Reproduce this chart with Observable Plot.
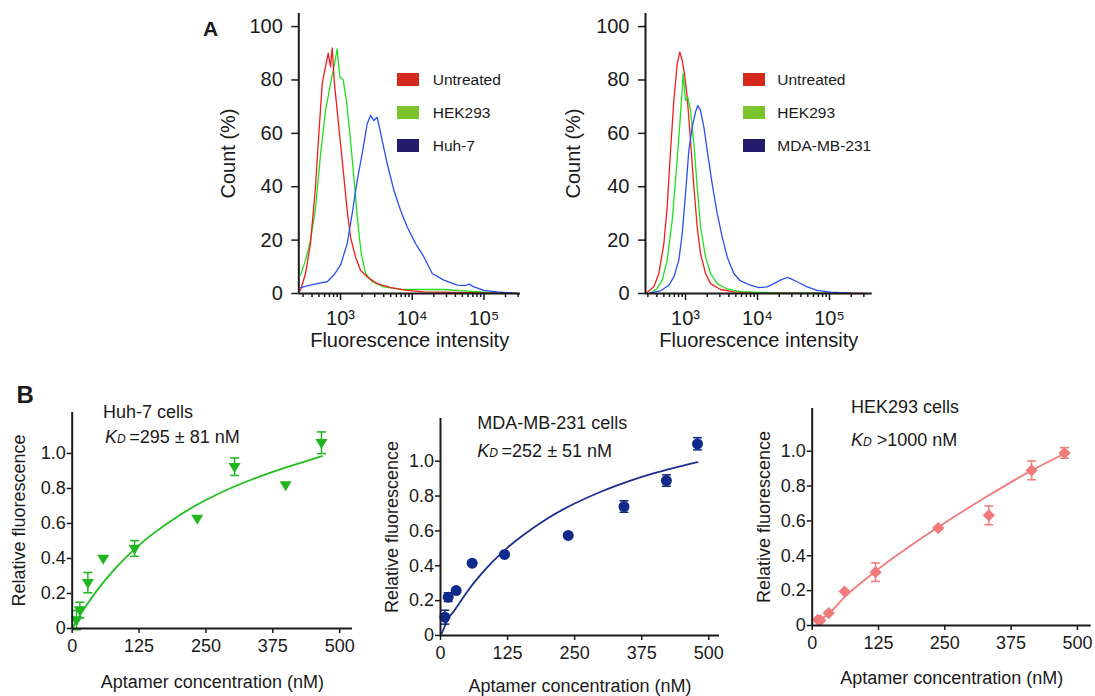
<!DOCTYPE html>
<html><head><meta charset="utf-8">
<script src="https://cdn.jsdelivr.net/npm/d3@7"></script>
<script src="https://cdn.jsdelivr.net/npm/@observablehq/plot@0.6"></script>
<style>
body{margin:0;background:#fff;}
#fig{position:relative;width:1095px;height:696px;overflow:hidden;background:#fff;font-family:"Liberation Sans",Arial,Helvetica,sans-serif;color:#1a1a1a;}
.t{position:absolute;white-space:nowrap;line-height:1;}
.sw{position:absolute;width:22px;height:13px;}
</style></head><body><div id="fig"></div>
<script>
// ---------------- DATA ----------------
// Panel A: flow-cytometry histograms, [log10(intensity), count %]
const a1Untreated = [[2.442,1.2],[2.512,7.5],[2.581,18.7],[2.651,40],[2.698,60],[2.744,78.5],[2.791,85],[2.828,90],[2.860,85],[2.884,92],[2.916,78.5],[2.953,68.6],[3.000,56],[3.047,43.6],[3.093,31],[3.140,21],[3.209,13.7],[3.279,8.7],[3.372,6.2],[3.512,3.7],[3.698,2.2],[3.930,1.2],[4.163,0.6],[4.628,0.4],[5.093,0.1],[5.465,0]];
const a1HEK293 = [[2.442,6.9],[2.512,12.5],[2.581,20],[2.651,32],[2.721,52],[2.791,68.6],[2.860,78.5],[2.916,86],[2.953,91.6],[2.991,81],[3.037,80],[3.084,72],[3.130,60],[3.186,43.6],[3.233,28.7],[3.288,15],[3.349,7.5],[3.442,4.4],[3.605,2.5],[3.837,1.6],[4.163,1.5],[4.442,1.5],[4.721,1.0],[5.000,0.5],[5.326,0.1]];
const a1Huh7 = [[2.442,2.2],[2.581,3.1],[2.721,4],[2.814,4.4],[2.907,6.9],[3.000,10.6],[3.093,18.7],[3.163,30],[3.233,42.4],[3.302,52.4],[3.372,63.6],[3.419,66.7],[3.465,64.8],[3.512,66],[3.581,57.4],[3.651,48.6],[3.744,38.7],[3.837,31.2],[3.930,24.9],[4.047,18.7],[4.163,13.7],[4.279,7.5],[4.442,5],[4.628,3.1],[4.744,3],[4.791,3.5],[4.860,2.5],[5.000,1.2],[5.186,0.6],[5.465,0]];
const a2Untreated = [[2.458,0.2],[2.560,2.5],[2.630,7.5],[2.699,18.7],[2.745,32.4],[2.792,53.6],[2.838,72.3],[2.884,86],[2.921,90.4],[2.954,87.3],[2.986,82.3],[3.023,73.6],[3.069,57.4],[3.116,40],[3.162,25],[3.208,15],[3.278,7.5],[3.347,3.7],[3.486,1.5],[3.671,0.6],[3.995,0.2],[4.690,0.1],[5.523,0]];
const a2HEK293 = [[2.514,0.2],[2.606,1.9],[2.676,5],[2.745,12.5],[2.815,27.4],[2.884,50],[2.931,67.3],[2.968,82.3],[3.000,72.3],[3.032,73.6],[3.069,68.6],[3.116,56],[3.162,40],[3.208,25],[3.278,13.7],[3.347,7.5],[3.440,3.7],[3.579,1.7],[3.764,0.7],[4.227,0.2],[5.153,0.1]];
const a2MDA = [[2.514,0.2],[2.653,1.0],[2.769,3.1],[2.838,6.2],[2.907,12.5],[2.954,22.4],[3.000,37.4],[3.046,53.6],[3.093,62.3],[3.139,68],[3.171,70.4],[3.208,68.6],[3.255,62.3],[3.301,53.6],[3.370,41.1],[3.440,30],[3.509,21.2],[3.579,13.7],[3.671,7.5],[3.764,4.7],[3.903,3.1],[4.019,2.2],[4.134,2.5],[4.227,3.7],[4.319,5],[4.412,6],[4.458,5.6],[4.551,4.4],[4.690,2.5],[4.829,1.2],[5.014,0.5],[5.292,0.1]];

const countTicks = [0, 20, 40, 60, 80, 100];
const decadeTicks = [1e3, 1e4, 1e5];
const decadeLabels = ["10³", "10⁴", "10⁵"];
const minorTicks = [300,400,500,600,700,800,900,2000,3000,4000,5000,6000,7000,8000,9000,20000,30000,40000,50000,60000,70000,80000,90000,200000,300000];
const legendA1 = ["Untreated", "HEK293", "Huh-7"];
const legendA2 = ["Untreated", "HEK293", "MDA-MB-231"];

// Panel B: binding curves
const b1Conc = [8.1, 14.3, 29.3, 58, 116.6, 233.8, 303.6, 399, 466];
const b1Val  = [0.048, 0.105, 0.262, 0.40, 0.457, 0.629, 0.924, 0.82, 1.061];
const b1Err  = [0.055, 0.045, 0.058, 0, 0.045, 0, 0.05, 0, 0.062];
const b1FitX = [1, 10, 25, 50, 75, 100, 125, 150, 200, 250, 300, 350, 400, 467];
const b1FitY = [0.005, 0.053, 0.125, 0.232, 0.324, 0.405, 0.476, 0.539, 0.646, 0.734, 0.807, 0.868, 0.921, 0.985];

const b2Conc = [8.1, 14.3, 29.2, 59, 119.4, 238, 342, 421, 479];
const b2Val  = [0.105, 0.22, 0.258, 0.415, 0.465, 0.574, 0.74, 0.889, 1.10];
const b2Err  = [0.04, 0.025, 0, 0, 0, 0, 0.033, 0.033, 0.035];
const b2FitX = [2, 15, 25, 50, 75, 100, 125, 150, 200, 250, 300, 350, 400, 479];
const b2FitY = [0.01, 0.10, 0.14, 0.252, 0.349, 0.432, 0.504, 0.567, 0.673, 0.757, 0.826, 0.884, 0.933, 0.995];

const b3Conc = [10.6, 15.5, 31.1, 61, 119.4, 237.6, 333, 413.6, 475.7];
const b3Val  = [0.033, 0.029, 0.071, 0.195, 0.306, 0.559, 0.632, 0.89, 0.99];
const b3Err  = [0, 0, 0, 0, 0.053, 0.01, 0.054, 0.054, 0.03];
const b3FitX = [6, 31, 61, 119, 238, 333, 414, 476];
const b3FitY = [0.02, 0.067, 0.163, 0.31, 0.565, 0.747, 0.89, 0.987];

const relTicks = [0, 0.2, 0.4, 0.6, 0.8, 1.0];
const relLabels = ["0", "0.2", "0.4", "0.6", "0.8", "1.0"];
const concTicks = [0, 125, 250, 375, 500];

// ---------------- STYLE ----------------
const FONT = '"Liberation Sans", Arial, Helvetica, sans-serif';
const INK = "#1a1a1a";
const histColors = {red: "#f21c1c", green: "#1fe01f", blue: "#2a4ff2"};
const swatchColors = ["#d4291d", "#7cc42c", "#241a6c"];

const fig = document.getElementById("fig");
function put(el, left, top) {
  el.style.position = "absolute";
  el.style.left = left + "px";
  el.style.top = top + "px";
  fig.appendChild(el);
}
function text(html, left, top, size, extra) {
  const d = document.createElement("div");
  d.className = "t";
  d.innerHTML = html;
  d.style.fontSize = size + "px";
  if (extra) d.style.cssText += extra;
  put(d, left, top);
  return d;
}

// ---------------- PANEL A ----------------
function histPanel(o) {
  const lines = o.series.map(s => Plot.line(
    s.pts.map(([lx, c]) => ({x: Math.pow(10, lx), c})),
    {x: "x", y: "c", stroke: s.color, strokeWidth: 1.3}
  ));
  return Plot.plot({
    width: o.w, height: o.h,
    marginLeft: o.ml, marginRight: o.mr, marginTop: o.mt, marginBottom: o.mb,
    style: {fontFamily: FONT, fontSize: "20px", background: "none", color: INK, overflow: "visible"},
    x: {type: "log", domain: o.xDomain},
    y: {domain: [0, 104.9]},
    marks: [
      ...lines,
      Plot.axisY({ticks: countTicks, tickSize: 7, tickPadding: 9, strokeWidth: 1.5, label: null, tickFormat: d => String(d)}),
      Plot.axisX({ticks: minorTicks, tickSize: 4, tickPadding: 0, strokeWidth: 1.5, label: null, tickFormat: () => ""}),
      Plot.axisX({ticks: decadeTicks, tickSize: 7, tickPadding: 10, strokeWidth: 1.5, label: null, tickFormat: (d, i) => decadeLabels[decadeTicks.indexOf(d)]}),
      Plot.ruleX([o.xDomain[0]], {strokeWidth: 2, stroke: INK}),
      Plot.ruleY([0], {strokeWidth: 2, stroke: INK}),
      Plot.text(["Count (%)"], {text: d => d, frameAnchor: "left", dx: o.ylabDx, rotate: -90, textAnchor: "middle", lineAnchor: "middle", fontSize: 20, fill: INK}),
      Plot.text(["Fluorescence intensity"], {text: d => d, frameAnchor: "bottom", dy: 47, textAnchor: "middle", lineAnchor: "middle", fontSize: 20, fill: INK})
    ]
  });
}

const a1 = histPanel({
  w: 350, h: 360, ml: 108.3, mr: 20, mt: 13, mb: 67,
  xDomain: [Math.pow(10, 2.418), Math.pow(10, 5.51)], ylabDx: -70,
  series: [
    {pts: a1HEK293, color: histColors.green},
    {pts: a1Untreated, color: histColors.red},
    {pts: a1Huh7, color: histColors.blue}
  ]
});
put(a1, 190, 0);

const a2 = histPanel({
  w: 350, h: 360, ml: 105, mr: 18.3, mt: 13, mb: 67,
  xDomain: [Math.pow(10, 2.444), Math.pow(10, 5.593)], ylabDx: -72,
  series: [
    {pts: a2Untreated, color: histColors.red},
    {pts: a2HEK293, color: histColors.green},
    {pts: a2MDA, color: histColors.blue}
  ]
});
put(a2, 540, 0);

// legends
function legend(names, swLeft, txtLeft) {
  const tops = [73.3, 105.7, 139];
  names.forEach((n, i) => {
    const s = document.createElement("div");
    s.className = "sw";
    s.style.background = swatchColors[i];
    put(s, swLeft, tops[i]);
    text(n, txtLeft, tops[i] + 6.6 - 7.6, 15.5);
  });
}
legend(legendA1, 397.3, 432.7);
legend(legendA2, 743.3, 777.3);

text("A", 203, 17.5, 21, "font-weight:bold;");

// ---------------- PANEL B ----------------
const capSymbol = {draw(ctx, size) { const r = Math.sqrt(size / Math.PI); ctx.moveTo(-r, 0); ctx.lineTo(r, 0); }};
const downTriangle = {draw(ctx, size) {
  const r = Math.sqrt(size / Math.PI);
  ctx.moveTo(-1.2 * r, -0.75 * r); ctx.lineTo(1.2 * r, -0.75 * r); ctx.lineTo(0, 1.25 * r); ctx.closePath();
}};

function bindPanel(o) {
  const pts = o.x.map((x, i) => ({x, y: o.y[i], e: o.e[i]}));
  const errs = pts.filter(d => d.e > 0);
  const fit = o.fitX.map((x, i) => ({x, y: o.fitY[i]}));
  return Plot.plot({
    width: o.w, height: 326,
    marginLeft: o.ml, marginRight: o.mr, marginTop: o.mt, marginBottom: o.mb,
    style: {fontFamily: FONT, fontSize: "18px", background: "none", color: INK, overflow: "visible"},
    x: {domain: [0, o.xMax]},
    y: {domain: [0, o.yMax]},
    marks: [
      Plot.line(fit, {x: "x", y: "y", stroke: o.lineColor, strokeWidth: 1.8, curve: o.curve}),
      Plot.ruleX(errs, {x: "x", y1: d => d.y - d.e, y2: d => d.y + d.e, stroke: o.color, strokeWidth: 1.5}),
      Plot.dot(errs, {x: "x", y: d => d.y + d.e, symbol: capSymbol, r: 4.5, stroke: o.color, strokeWidth: 1.5, fill: "none"}),
      Plot.dot(errs, {x: "x", y: d => d.y - d.e, symbol: capSymbol, r: 4.5, stroke: o.color, strokeWidth: 1.5, fill: "none"}),
      Plot.dot(pts, {x: "x", y: "y", symbol: o.symbol, r: o.r, fill: o.color, stroke: "none"}),
      Plot.axisY({ticks: relTicks, tickSize: 5, tickPadding: 1.5, strokeWidth: 1.5, label: null, tickFormat: d => relLabels[relTicks.indexOf(d)]}),
      Plot.axisX({ticks: concTicks, tickSize: 5, tickPadding: 6, strokeWidth: 1.5, label: null, tickFormat: d => String(d)}),
      Plot.ruleX([0], {strokeWidth: 2, stroke: INK}),
      Plot.ruleY([0], {strokeWidth: 2, stroke: INK}),
      Plot.text(["Relative fluorescence"], {text: d => d, frameAnchor: "left", dx: o.ylabDx, rotate: -90, textAnchor: "middle", lineAnchor: "middle", fontSize: 18, fill: INK}),
      Plot.text(["Aptamer concentration (nM)"], {text: d => d, frameAnchor: "bottom", dy: o.xlabDy, textAnchor: "middle", lineAnchor: "middle", fontSize: 18, fill: INK})
    ]
  });
}

const b1 = bindPanel({
  w: 370, ml: 71.7, mr: 18, mt: 42, mb: 68, xMax: 524, yMax: 1.234,
  x: b1Conc, y: b1Val, e: b1Err, fitX: b1FitX, fitY: b1FitY, curve: "natural",
  color: "#1fb61f", lineColor: "#1fbf1f", symbol: downTriangle, r: 5,
  ylabDx: -52.7, xlabDy: 54
});
put(b1, 0, 370);

const b2 = bindPanel({
  w: 370, ml: 80, mr: 11, mt: 48, mb: 61, xMax: 520, yMax: 1.245,
  x: b2Conc, y: b2Val, e: b2Err, fitX: b2FitX, fitY: b2FitY, curve: "natural",
  color: "#0f2a8a", lineColor: "#1a2f90", symbol: "circle", r: 5.5,
  ylabDx: -48.3, xlabDy: 50.5
});
put(b2, 360, 370);

const b3 = bindPanel({
  w: 375, ml: 91.7, mr: 4.3, mt: 38, mb: 71, xMax: 526, yMax: 1.245,
  x: b3Conc, y: b3Val, e: b3Err, fitX: b3FitX, fitY: b3FitY, curve: "monotone-x",
  color: "#f27a7a", lineColor: "#f27a7a", symbol: "diamond2", r: 5.5,
  ylabDx: -48.4, xlabDy: 53
});
put(b3, 720, 370);

const KD = '<i>K</i><i style="font-size:12px">D</i>';
text("B", 16.5, 382.9, 24, "font-weight:bold;");
text("Huh-7 cells", 103, 402.7, 18);
text(KD + "&thinsp;=295 ± 81 nM", 105, 428.3, 18);
text("MDA-MB-231 cells", 477.3, 413.8, 18);
text(KD + "&thinsp;=252 ± 51 nM", 477.3, 441.8, 18);
text("HEK293 cells", 851, 397.5, 18);
text(KD + " &gt;1000 nM", 851, 430.8, 18);
</script>
</body></html>
